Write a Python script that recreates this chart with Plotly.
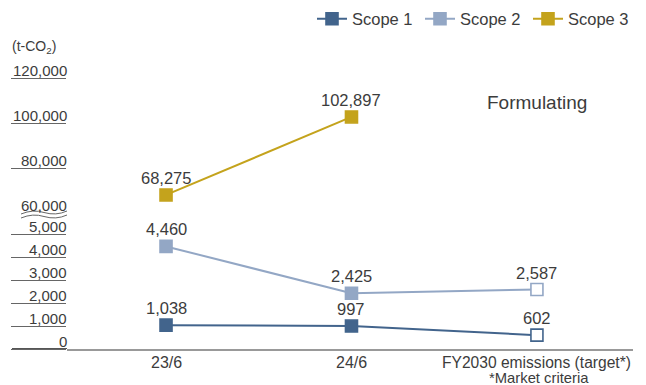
import plotly.graph_objects as go

# ---- data -------------------------------------------------------------
categories = ["23/6", "24/6", "FY2030 emissions (target*)"]
scope1 = [1038, 997, 602]
scope2 = [4460, 2425, 2587]
scope3 = [68275, 102897]
series_names = ["Scope 1", "Scope 2", "Scope 3"]
lower_ticks = [0, 1000, 2000, 3000, 4000, 5000]
upper_ticks = [60000, 80000, 100000, 120000]
unit_label = "(t-CO<sub>2</sub>)"
note_label = "*Market criteria"
pending_label = "Formulating"

# ---- style ------------------------------------------------------------
C1, C2, C3 = "#42648c", "#93a7c5", "#c4a31c"
TEXT = "#3c3c3c"
TICK = "#666666"
FONT = "Liberation Sans, Arial, sans-serif"

W, H = 646, 385
L, R, T, B = 67, 13, 60, 36
PW, PH = W - L - R, H - T - B


def ypx(p):
    """pixel row -> paper y"""
    return (H - B - p) / PH


def xpx(p):
    """pixel column -> paper x"""
    return (p - L) / PW


fig = go.Figure()


def add_series(name, ys, color, axis, n_filled):
    xs = categories[:len(ys)]
    fills = [color if i < n_filled else "white" for i in range(len(ys))]
    fig.add_trace(go.Scatter(
        x=xs, y=ys, name=name, yaxis=axis, mode="lines+markers",
        line=dict(color=color, width=2),
        marker=dict(symbol="square", size=12, color=fills,
                    line=dict(color=color, width=1.6)),
        cliponaxis=False, hoverinfo="skip",
    ))
    for x, v in zip(xs, ys):
        fig.add_annotation(x=x, y=v, yref=axis, text=f"{v:,}", showarrow=False,
                           yanchor="middle", yshift=17,
                           font=dict(size=16.5, color=TEXT, family=FONT))


add_series(series_names[0], scope1, C1, "y", 2)
add_series(series_names[1], scope2, C2, "y", 2)
add_series(series_names[2], scope3, C3, "y2", 2)

# y tick labels (sit on top of their underline ticks)
for v in lower_ticks:
    fig.add_annotation(xref="paper", x=0, xanchor="right", xshift=2,
                       yref="y", y=v, yanchor="bottom", yshift=-2.5,
                       text=f"{v:,}", showarrow=False,
                       font=dict(size=15, color=TEXT, family=FONT))
for v in upper_ticks:
    fig.add_annotation(xref="paper", x=0, xanchor="right", xshift=2,
                       yref="y2", y=v, yanchor="bottom", yshift=-2.5,
                       text=f"{v:,}", showarrow=False,
                       font=dict(size=15, color=TEXT, family=FONT))

# unit
fig.add_annotation(xref="paper", x=xpx(10), xanchor="left",
                   yref="paper", y=ypx(47), yanchor="middle",
                   text=unit_label, showarrow=False,
                   font=dict(size=14, color=TEXT, family=FONT))

# category labels
for i, c in enumerate(categories):
    fig.add_annotation(xref="x", x=c, yref="paper", y=ypx(362), yanchor="middle",
                       text=c, showarrow=False,
                       font=dict(size=16 if i < 2 else 15.6, color=TEXT, family=FONT))
fig.add_annotation(xref="x", x=categories[2], xshift=2, yref="paper", y=ypx(378),
                   yanchor="middle", text=note_label, showarrow=False,
                   font=dict(size=14.8, color=TEXT, family=FONT))

# Scope 3 target not yet set
fig.add_annotation(xref="x", x=categories[2], yref="paper", y=ypx(103),
                   yanchor="middle", text=pending_label, showarrow=False,
                   font=dict(size=19, color=TEXT, family=FONT))


# axis break marker: two wavy strokes under the 60,000 label
def wave(y0):
    pts = [(21, y0 + 1.5), (33, y0 - 3.5), (44, y0), (56, y0 + 3.5), (67, y0 - 1.5)]
    (x0, a0), (x1, a1), (x2, a2), (x3, a3), (x4, a4) = pts
    return (f"M{xpx(x0)},{ypx(a0)} Q{xpx(x1)},{ypx(a1)} {xpx(x2)},{ypx(a2)} "
            f"Q{xpx(x3)},{ypx(a3)} {xpx(x4)},{ypx(a4)}")


for y0 in (212.5, 216.5):
    fig.add_shape(type="path", xref="paper", yref="paper", path=wave(y0),
                  line=dict(color=TICK, width=1))

# darker baseline under the 0 label
fig.add_shape(type="line", xref="paper", yref="y", x0=xpx(12), x1=0, y0=0, y1=0,
              line=dict(color="#555555", width=2))

tick_style = dict(ticks="outside", ticklen=55, tickwidth=1, tickcolor=TICK,
                  showticklabels=False, showgrid=False, zeroline=False,
                  showline=False, fixedrange=True)

fig.update_layout(
    width=W, height=H,
    margin=dict(l=L, r=R, t=T, b=B, autoexpand=False),
    paper_bgcolor="white", plot_bgcolor="white",
    font=dict(family=FONT, color=TEXT),
    showlegend=True,
    legend=dict(orientation="h", x=xpx(312), xanchor="left",
                y=ypx(19), yanchor="middle", entrywidth=63,
                font=dict(size=16.5, color=TEXT, family=FONT),
                bgcolor="rgba(0,0,0,0)", itemclick=False),
    xaxis=dict(type="category", categoryorder="array", categoryarray=categories,
               range=[-0.534, 2.518], showticklabels=False, ticks="",
               showgrid=False, zeroline=False, showline=True,
               linecolor="#999999", linewidth=2, anchor="y", fixedrange=True),
    yaxis=dict(domain=[0, ypx(234)], range=[0, 5000], tickvals=lower_ticks,
               anchor="x", **tick_style),
    yaxis2=dict(domain=[ypx(213.6), ypx(78.4)], range=[60000, 120000],
                tickvals=upper_ticks[1:], anchor="x", **tick_style),
)

fig.write_html("out.html")
